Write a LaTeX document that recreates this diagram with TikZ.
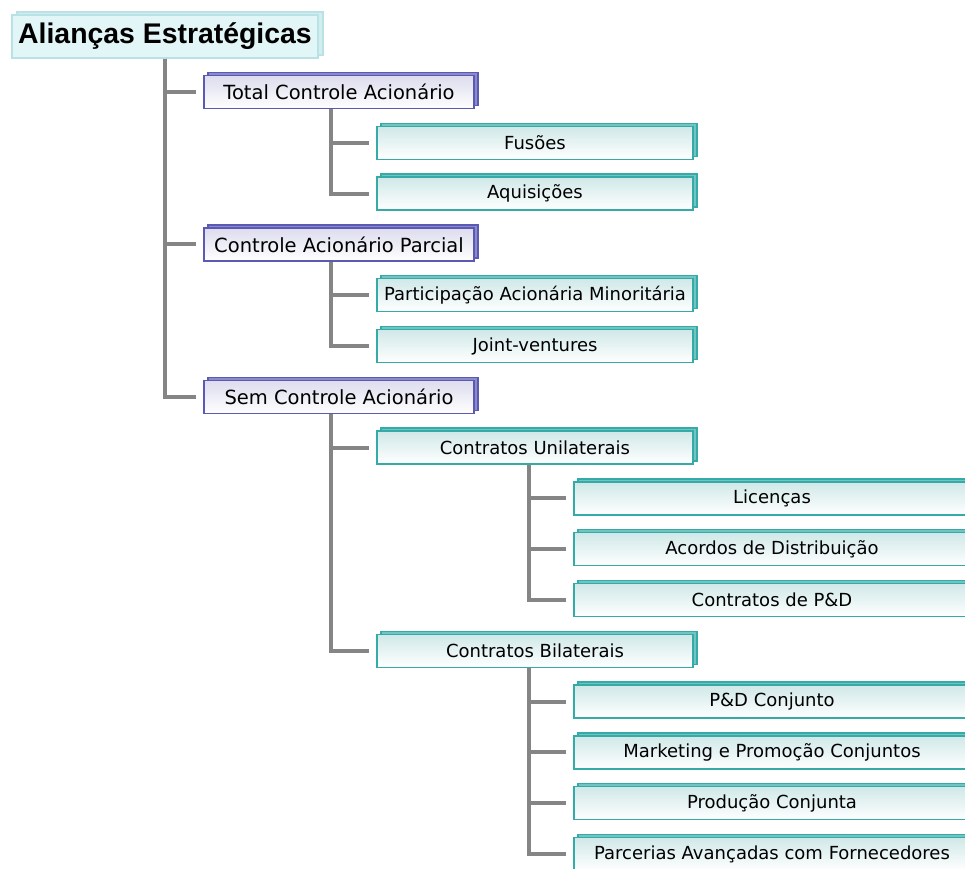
\documentclass[tikz,border=0pt]{standalone}
\usepackage{fontspec}
\setmainfont{DejaVu Sans}
\newfontfamily\titlefont{Liberation Sans}
\usetikzlibrary{shadows}
\definecolor{tealline}{HTML}{35ABA8}
\definecolor{tealtop}{HTML}{D0E8E8}
\definecolor{lilaline}{HTML}{5A5AB4}
\definecolor{lilatop}{HTML}{DCDCEE}
\definecolor{titlefill}{HTML}{E2F5F7}
\definecolor{titleline}{HTML}{B8E2E6}
\definecolor{linkgray}{HTML}{858585}
\begin{document}
\begin{tikzpicture}[x=1pt,y=-1pt,
		titlebox/.style={draw=titleline,fill=titlefill,line width=1.2pt,inner sep=0pt,
			minimum width=306pt,minimum height=43pt,
			copy shadow={shadow xshift=5pt,shadow yshift=3pt,fill=titleline!60,draw=titleline},
			font=\titlefont\bfseries\fontsize{28.4}{30}\selectfont},
		grpbox/.style={draw=lilaline,top color=lilatop,bottom color=white,line width=1.4pt,inner sep=0pt,
			minimum width=270pt,minimum height=33pt,
			copy shadow={shadow xshift=4pt,shadow yshift=3pt,fill=lilaline!70,draw=lilaline},
			font=\fontsize{19.5}{21}\selectfont},
		itembox/.style={draw=tealline,top color=tealtop,bottom color=white,line width=1.4pt,inner sep=0pt,
			minimum height=33pt,
			copy shadow={shadow xshift=4pt,shadow yshift=3pt,fill=tealline!70,draw=tealline},
			font=\fontsize{18}{20}\selectfont},
		lvtwo/.style={itembox,minimum width=316pt},
		lvthree/.style={itembox,minimum width=396pt},
		link/.style={draw=linkgray,line width=4pt,shorten >=7pt}]
	\useasboundingbox (0,0) rectangle (965,868);
	\clip (0,0) rectangle (965,868);

	\node[titlebox] (ali) at (165,36.5) {Alianças Estratégicas};

	\node[grpbox] (tca) at (339,92) {Total Controle Acionário};
	\node[lvtwo] (fus) at (535,142.8) {Fusões};
	\node[lvtwo] (aqu) at (535,193.6) {Aquisições};

	\node[grpbox] (cap) at (339,244.4) {Controle Acionário Parcial};
	\node[lvtwo] (pam) at (535,295.2) {Participação Acionária Minoritária};
	\node[lvtwo] (jv) at (535,346) {Joint-ventures};

	\node[grpbox] (sca) at (339,396.8) {Sem Controle Acionário};
	\node[lvtwo] (cu) at (535,447.6) {Contratos Unilaterais};
	\node[lvthree] (lic) at (772,498.4) {Licenças};
	\node[lvthree] (ad) at (772,549.2) {Acordos de Distribuição};
	\node[lvthree] (cpd) at (772,600) {Contratos de P\&D};
	\node[lvtwo] (cb) at (535,650.8) {Contratos Bilaterais};
	\node[lvthree] (pdc) at (772,701.6) {P\&D Conjunto};
	\node[lvthree] (mpc) at (772,752.4) {Marketing e Promoção Conjuntos};
	\node[lvthree] (pc) at (772,803.2) {Produção Conjunta};
	\node[lvthree] (paf) at (772,854) {Parcerias Avançadas com Fornecedores};

	\foreach \kid in {tca,cap,sca}
		\draw[link] (ali.south) |- (\kid.west);
	\foreach \kid in {fus,aqu}
		\draw[link] ([xshift=-8pt]tca.south) |- (\kid.west);
	\foreach \kid in {pam,jv}
		\draw[link] ([xshift=-8pt]cap.south) |- (\kid.west);
	\foreach \kid in {cu,cb}
		\draw[link] ([xshift=-8pt]sca.south) |- (\kid.west);
	\foreach \kid in {lic,ad,cpd}
		\draw[link] ([xshift=-6pt]cu.south) |- (\kid.west);
	\foreach \kid in {pdc,mpc,pc,paf}
		\draw[link] ([xshift=-6pt]cb.south) |- (\kid.west);
\end{tikzpicture}
\end{document}
